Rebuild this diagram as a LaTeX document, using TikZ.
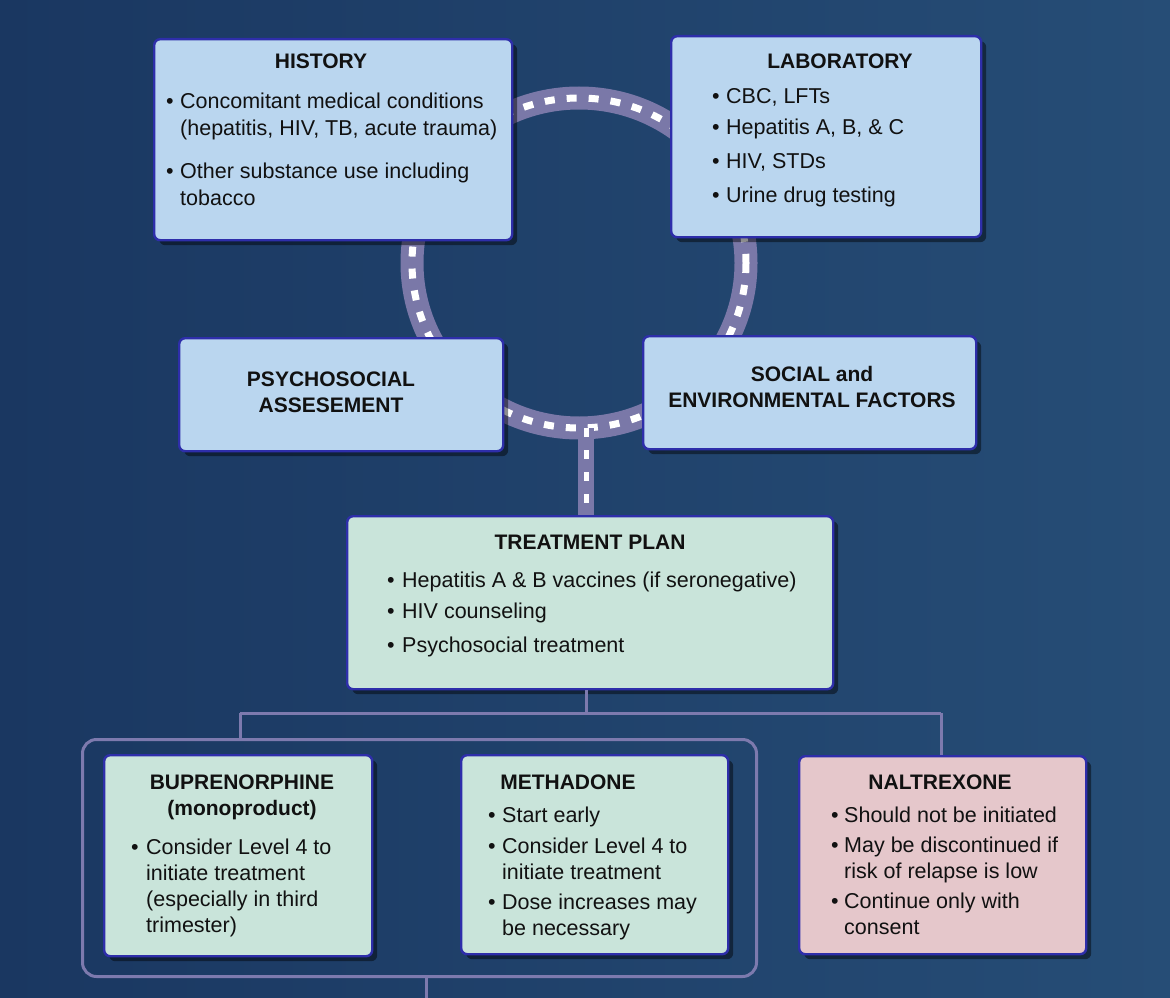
\documentclass[tikz,border=0pt]{standalone}
\usepackage{fontspec}
\setmainfont{Liberation Sans}
\usetikzlibrary{shadows}
\definecolor{bgL}{HTML}{1A3761}
\definecolor{bgR}{HTML}{264D76}
\definecolor{bordc}{HTML}{2E2EAA}
\definecolor{bluef}{HTML}{BAD6EF}
\definecolor{greenf}{HTML}{C9E4DA}
\definecolor{pinkf}{HTML}{E5C7CB}
\definecolor{roadc}{HTML}{7A78A8}
\definecolor{connc}{HTML}{7D7AAE}
\definecolor{inkc}{HTML}{111111}
\newcommand\bulpt[3]{\node[txt,anchor=base west] (#1) at (#2,#3) {•};}
\newcommand\txtline[4]{\node[txt,anchor=base west] (#1) at (#2,#3) {#4};}
\newcommand\ttline[4]{\node[ttl,anchor=base] (#1) at (#2,#3) {#4};}
\tikzset{
  box/.style={draw=bordc, line width=2.4pt, rounded corners=6pt, anchor=north west, inner sep=0pt,
    drop shadow={shadow xshift=5pt, shadow yshift=-5pt, opacity=0.45, fill=black}},
  bluebox/.style={box, fill=bluef},
  greenbox/.style={box, fill=greenf},
  pinkbox/.style={box, fill=pinkf},
  txt/.style={inner sep=0pt, text=inkc, font=\fontsize{21.5}{25}\selectfont},
  ttl/.style={inner sep=0pt, text=inkc, font=\bfseries\fontsize{21}{24}\selectfont},
  road/.style={draw=roadc, line width=#1},
  roaddash/.style={draw=white, line width=#1, dash pattern=on 10pt off 12pt},
  conn/.style={draw=connc, line width=3pt},
}
\begin{document}
\begin{tikzpicture}[x=1pt,y=-1pt]
\useasboundingbox (0,0) rectangle (1170,998);
\shade[left color=bgL, right color=bgR] (0,0) rectangle (1170,998);

% ring road
\coordinate (ringc) at (579,263);
\coordinate (ringbot) at (586,428);
\draw[road=23pt] (ringc) ellipse [x radius=167, y radius=165];
\draw[roaddash=7pt] (ringc) ellipse [x radius=167, y radius=165];

% boxes
\node[bluebox, minimum width=358pt, minimum height=201pt] (history) at (153,38) {};
\node[bluebox, minimum width=310pt, minimum height=201pt] (lab) at (670,35) {};
\node[bluebox, minimum width=324pt, minimum height=113pt] (psych) at (178,337) {};
\node[bluebox, minimum width=333pt, minimum height=113pt] (social) at (642,335) {};

% vertical road
\coordinate (treattop) at (586,515);
\draw[road=16pt] (ringbot) -- (treattop);
\draw[roaddash=5pt, dash pattern=on 9pt off 13pt] (ringbot) -- (treattop);

\node[greenbox, minimum width=486pt, minimum height=173pt] (treat) at (346,515) {};

% tree connectors
\coordinate (split) at (586,713);
\coordinate (lsplit) at (240,713);
\coordinate (rsplit) at (941,713);
\node[draw=connc, line width=3pt, rounded corners=14pt, anchor=north west, minimum width=674pt, minimum height=237pt, inner sep=0pt] (group) at (81,738) {};
\draw[conn] (treat.south -| split) -- (split);
\draw[conn] (lsplit) -- (rsplit);
\draw[conn] (lsplit) -- (lsplit |- group.north);
\coordinate (gout) at (426,998);
\draw[conn] (gout |- group.south) -- (gout);

\node[greenbox, minimum width=268pt, minimum height=201pt] (bup) at (103,754) {};
\node[greenbox, minimum width=267pt, minimum height=199pt] (meth) at (460,754) {};
\node[pinkbox, minimum width=287pt, minimum height=198pt] (nal) at (798,755) {};
\draw[conn] (rsplit) -- (rsplit |- nal.north);

% HISTORY
\ttline{hT}{321}{69}{HISTORY}
\bulpt{hB1}{166}{108}
\txtline{h1}{180}{108}{Concomitant medical conditions}
\txtline{h2}{180}{135}{(hepatitis, HIV, TB, acute trauma)}
\bulpt{hB2}{166}{178}
\txtline{h3}{180}{178}{Other substance use including}
\txtline{h4}{180}{205}{tobacco}

% LABORATORY
\ttline{lT}{840}{69}{LABORATORY}
\bulpt{lB1}{712}{103}\txtline{l1}{726}{103}{CBC, LFTs}
\bulpt{lB2}{712}{134}\txtline{l2}{726}{134}{Hepatitis A, B, \& C}
\bulpt{lB3}{712}{168}\txtline{l3}{726}{168}{HIV, STDs}
\bulpt{lB4}{712}{202}\txtline{l4}{726}{202}{Urine drug testing}

% PSYCHOSOCIAL
\ttline{pT1}{331}{386}{PSYCHOSOCIAL}
\ttline{pT2}{331}{412}{ASSESEMENT}

% SOCIAL
\ttline{sT1}{812}{381}{SOCIAL and}
\ttline{sT2}{812}{407}{ENVIRONMENTAL FACTORS}

% TREATMENT PLAN
\ttline{tT}{590}{549}{TREATMENT PLAN}
\bulpt{tB1}{387}{587}\txtline{t1}{402}{587}{Hepatitis A \& B vaccines (if seronegative)}
\bulpt{tB2}{387}{618}\txtline{t2}{402}{618}{HIV counseling}
\bulpt{tB3}{387}{652}\txtline{t3}{402}{652}{Psychosocial treatment}

% BUPRENORPHINE
\ttline{bT1}{242}{789}{BUPRENORPHINE}
\ttline{bT2}{242}{815}{(monoproduct)}
\bulpt{bB1}{131}{854}
\txtline{b1}{146}{854}{Consider Level 4 to}
\txtline{b2}{146}{880}{initiate treatment}
\txtline{b3}{146}{906}{(especially in third}
\txtline{b4}{146}{932}{trimester)}

% METHADONE
\ttline{mT}{568}{789}{METHADONE}
\bulpt{mB1}{488}{822}\txtline{m1}{502}{822}{Start early}
\bulpt{mB2}{488}{853}\txtline{m2}{502}{853}{Consider Level 4 to}
\txtline{m3}{502}{879}{initiate treatment}
\bulpt{mB3}{488}{909}\txtline{m4}{502}{909}{Dose increases may}
\txtline{m5}{502}{935}{be necessary}

% NALTREXONE
\ttline{nT}{940}{789}{NALTREXONE}
\bulpt{nB1}{831}{822}\txtline{n1}{844}{822}{Should not be initiated}
\bulpt{nB2}{831}{852}\txtline{n2}{844}{852}{May be discontinued if}
\txtline{n3}{844}{878}{risk of relapse is low}
\bulpt{nB3}{831}{908}\txtline{n4}{844}{908}{Continue only with}
\txtline{n5}{844}{934}{consent}
\end{tikzpicture}
\end{document}
